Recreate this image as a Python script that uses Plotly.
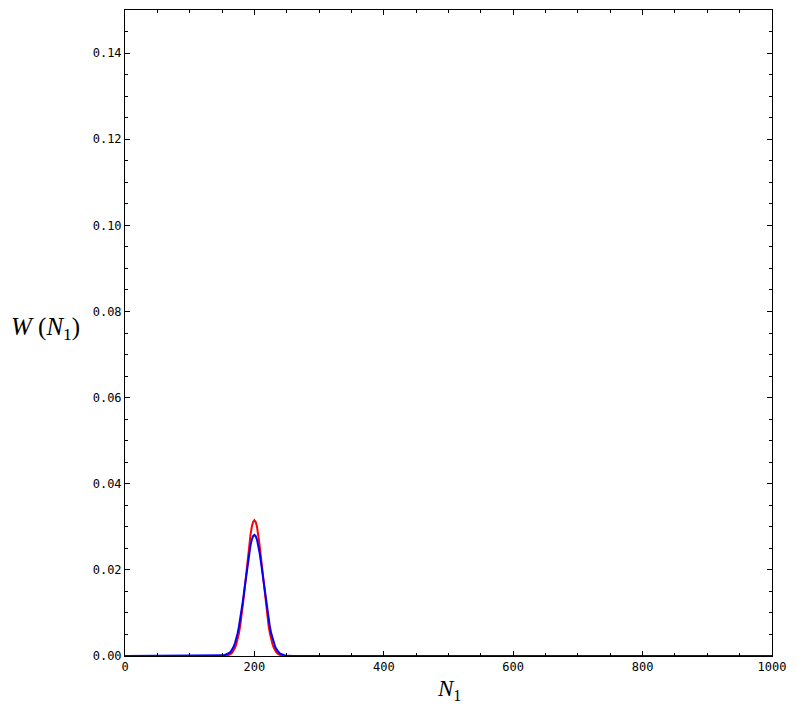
import plotly.graph_objects as go

# N1 values (every 2 around the peak, plus the flat ends)
n1 = [0, 140, 144, 148, 152, 156, 160, 162, 164, 166, 168, 170, 172, 174, 176, 178,
      180, 182, 184, 186, 188, 190, 192, 194, 196, 198, 200, 202, 204, 206, 208,
      210, 212, 214, 216, 218, 220, 222, 224, 226, 228, 230, 232, 234, 236, 238,
      240, 244, 248, 252, 256, 260, 1000]

w_red = [0, 0, 0, 0, 0.00002, 0.00007, 0.00021, 0.00035, 0.00055, 0.00085, 0.00129,
         0.00189, 0.00272, 0.00381, 0.00521, 0.00695, 0.00904, 0.01146, 0.01417,
         0.01709, 0.02011, 0.02307, 0.02582, 0.02818, 0.03000, 0.03115, 0.03154,
         0.03115, 0.03000, 0.02818, 0.02582, 0.02307, 0.02011, 0.01709, 0.01417,
         0.01146, 0.00904, 0.00695, 0.00521, 0.00381, 0.00272, 0.00189, 0.00129,
         0.00085, 0.00055, 0.00035, 0.00021, 0.00007, 0.00002, 0, 0, 0, 0]

w_blue = [0, 0, 0.00002, 0.00006, 0.00015, 0.00035, 0.00053, 0.00078, 0.00113,
          0.00160, 0.00221, 0.00301, 0.00402, 0.00525, 0.00673, 0.00846, 0.01041,
          0.01258, 0.01489, 0.01728, 0.01966, 0.02193, 0.02398, 0.02570, 0.02701,
          0.02782, 0.02810, 0.02782, 0.02701, 0.02570, 0.02398, 0.02193, 0.01966,
          0.01728, 0.01489, 0.01258, 0.01041, 0.00846, 0.00673, 0.00525, 0.00402,
          0.00301, 0.00221, 0.00160, 0.00113, 0.00078, 0.00053, 0.00023, 0.00009,
          0.00003, 0.00001, 0, 0]

fig = go.Figure()
fig.add_trace(go.Scatter(x=n1, y=w_red, mode="lines", line=dict(color="#ff0000", width=2)))
fig.add_trace(go.Scatter(x=n1, y=w_blue, mode="lines", line=dict(color="#0000ff", width=2)))

tick_font = dict(family="DejaVu Sans Mono", size=12, color="black")
axis_common = dict(
    showgrid=False, zeroline=False, showline=True, linecolor="black", linewidth=1,
    mirror="ticks", ticks="inside", ticklen=5, tickcolor="black", tickfont=tick_font,
)
fig.update_xaxes(range=[0, 1000], tickvals=[0, 200, 400, 600, 800, 1000],
                 minor=dict(dtick=50, ticks="inside", ticklen=3, tickcolor="black"),
                 **axis_common)
fig.update_yaxes(range=[0, 0.15], tickvals=[0, 0.02, 0.04, 0.06, 0.08, 0.10, 0.12, 0.14],
                 tickformat=".2f",
                 minor=dict(dtick=0.005, ticks="inside", ticklen=3, tickcolor="black"),
                 **axis_common)

fig.add_annotation(text="<i>N</i><sub>1</sub>", xref="paper", yref="paper", x=0.5, y=-0.053,
                   yanchor="middle", showarrow=False,
                   font=dict(family="Liberation Serif", size=23, color="black"))
fig.add_annotation(text="<i>W</i> (<i>N</i><sub>1</sub>)", xref="paper", yref="paper",
                   x=-0.18, y=0.507, xanchor="left", showarrow=False,
                   font=dict(family="Liberation Serif", size=25, color="black"))

fig.update_layout(width=806, height=713, showlegend=False,
                  plot_bgcolor="white", paper_bgcolor="white",
                  margin=dict(l=117, r=42, t=2, b=65))
fig.write_html("out.html")
